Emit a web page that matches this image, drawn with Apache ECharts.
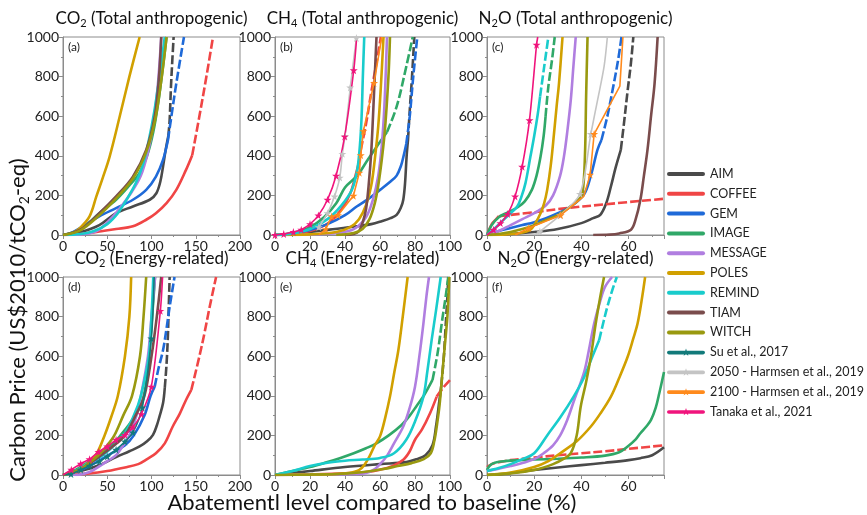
<!DOCTYPE html>
<html><head><meta charset="utf-8">
<script src="https://cdn.jsdelivr.net/npm/echarts@6/dist/echarts.min.js"></script>
<style>html,body{margin:0;padding:0;background:#fff}#c{width:867px;height:515px}</style>
</head><body><div id="c"></div>
<script>
// ---------- legend / models ----------
const modelNames = ['AIM','COFFEE','GEM','IMAGE','MESSAGE','POLES','REMIND','TIAM','WITCH','Su et al., 2017','2050 - Harmsen et al., 2019','2100 - Harmsen et al., 2019','Tanaka et al., 2021'];
const modelColors = ['#4a4a4a','#f04545','#1f6ad8','#30a868','#b07ee0','#d1a000','#19cccc','#7a4c4c','#999910','#127a7a','#c4c4c4','#ff8a1c','#f0147c'];

// ---------- axis ticks ----------
const xTicksA = [0,50,100,150,200];
const xTicksB = [0,20,40,60,80,100];
const xTicksC = [0,20,40,60];
const yTicks = [0,200,400,600,800,1000];

// ---------- panel (a) CO2 total ----------
const a_AIM = [[0,0],[20,15],[41,50],[60,110],[79,144],[98,178],[105.5,211],[110,270],[113,345],[116,430],[119,500]];
const a_AIM_dash = [[119,500],[120.5,580],[122,750],[123.5,880],[125,1000]];
const a_COFFEE = [[0,0],[20,5],[41,18],[60,30],[79,44],[94,77],[105,110],[117,161],[128,228],[139,329],[146,403]];
const a_COFFEE_dash = [[146,403],[154,597],[162,799],[169.5,1000]];
const a_GEM = [[0,0],[10,12],[22.6,44],[41,94],[60,136],[79,178],[94,228],[105,295],[113,379],[118.6,480]];
const a_GEM_dash = [[118.6,480],[122.4,597],[128,765],[136.7,1000]];
const a_IMAGE = [[0,0],[20,30],[41,110],[60,178],[75,250],[86,310],[95,400],[102,520],[108,680],[113,850],[117,1000]];
const a_MESSAGE = [[0,0],[25,5],[40,25],[53,77],[65,140],[78,220],[88,300],[96,420],[102,560],[107,750],[111,1000]];
const a_POLES = [[0,0],[10,8],[19,35],[30,94],[37.7,195],[45,290],[52.7,396],[64,597],[75,800],[86.6,1000]];
const a_REMIND = [[0,0],[20,5],[35,20],[50,55],[62,110],[72,180],[82,260],[90,350],[97,480],[103,620],[109,800],[115,1000]];
const a_TIAM = [[0,0],[20,28],[41,110],[60,195],[79,295],[94,430],[103.6,597],[108.5,800],[111,1000]];
const a_WITCH = [[0,0],[20,25],[41,100],[60,185],[79,285],[94,420],[104,580],[111,780],[117,1000]];

// ---------- panel (b) CH4 total ----------
const b_AIM = [[0,0],[15,10],[31,27],[46.7,44],[55,55],[61,70],[66,85],[69.5,102],[72,140],[73.3,178],[74.3,260],[75.2,396],[76,480]];
const b_AIM_dash = [[76,480],[77,630],[78.3,800],[79.6,1000]];
const b_COFFEE = [[0,0],[15,10],[25,35],[32,70],[38,130],[43,210],[46,300],[48,370],[49,430]];
const b_COFFEE_dash = [[49,430],[52,560],[55,720],[58,870],[60.5,1000]];
const b_GEM = [[0,0],[10,8],[20,25],[30,55],[40,100],[46.7,144],[53,180],[60,228],[66,270],[69.5,300],[72,350],[73.5,400],[75,460]];
const b_GEM_dash = [[75,460],[77,600],[79,800],[81.3,1000]];
const b_IMAGE = [[0,0],[10,10],[20,40],[28,90],[35,160],[40,240],[47,300],[53,380],[58,445],[64,520]];
const b_IMAGE_dash = [[64,520],[69.5,648],[75,850],[78.7,1000]];
const b_MESSAGE = [[0,0],[20,3],[35,10],[45,30],[52,90],[56,180],[59,300],[61,450],[62.5,650],[64,1000]];
const b_POLES = [[0,0],[20,3],[35,15],[43,40],[48,80],[52,150],[55,250],[57,380],[59,550],[60.5,750],[62,1000]];
const b_REMIND = [[0,0],[10,8],[20,30],[30,80],[38,150],[44,230],[47,330],[48.5,450],[49.5,600],[50.2,800],[51,1000]];
const b_TIAM = [[40,0],[45,5],[48,20],[50,60],[52,130],[53.5,250],[55,420],[56,600],[57,800],[58,1000]];
const b_WITCH = [[35,0],[45,10],[50,30],[54,80],[57,160],[59,250],[61,380],[62.5,500],[63.8,650],[65,830],[65.7,1000]];
const b_H2050 = [[25,40,1],[30,110,1],[34,195,1],[37,290,1],[38.5,410,1],[40,500,1],[43,745,1],[46.5,995,1]];
const b_H2100 = [[25,0,0],[29,30,1],[32.4,94,1],[36,100,1],[44.8,198,1],[48.2,315,1],[49,403,1],[50.5,525,1],[56.6,768,1],[61,1000,0]];
const b_Tanaka = [[0,0,1],[5,5,1],[10.5,15,1],[15,27,1],[20,55,1],[24.8,99,1],[30,178,1],[34.9,299,1],[39.8,497,1],[45,832,1],[46.7,1000,0]];

// ---------- panel (c) N2O total ----------
const c_AIM = [[0,0],[10,5],[20,15],[30,30],[40,60],[45,85],[48,102],[50.5,160],[52.5,245],[54.5,340],[56.7,430]];
const c_AIM_dash = [[56.7,430],[58,560],[59.5,720],[61,870],[62,1000]];
const c_COFFEE = [[0,0],[1,30],[2,55],[3.5,75],[5,95]];
const c_COFFEE_dash = [[5,95],[20,115],[31,132],[50,155],[75,183]];
const c_GEM = [[0,0],[5,20],[10,35],[15,50],[20,65],[25,85],[30,110],[35,140],[41,203],[44,300],[46.8,430],[48.5,480]];
const c_GEM_dash = [[48.5,480],[51,600],[53.5,750],[55.5,880],[57,1000]];
const c_IMAGE = [[0,0],[2,50],[5,90],[9,115],[13,140],[16,170],[19,228],[21,300],[22.7,396],[24,500],[24.8,597]];
const c_IMAGE_dash = [[24.8,597],[26,750],[27.5,880],[28.7,1000]];
const c_MESSAGE = [[0,0],[5,20],[10,50],[15,80],[20,110],[25,150],[28,200],[31,300],[32.6,396],[34,520],[35.5,681],[36.6,850],[37.6,1000]];
const c_POLES = [[0,0],[8,3],[14,10],[18.4,27],[20.5,60],[22.7,110],[24.2,160],[25.5,228],[27,350],[28.4,513],[29.5,650],[30.5,765],[32,1000]];
const c_REMIND = [[0,0],[3,30],[6,65],[10,110],[12.8,144],[14.5,190],[16.3,262],[18.4,396],[20,500],[21.5,610],[22.5,700]];
const c_REMIND_dash = [[22.5,700],[24,830],[26,1000]];
const c_TIAM = [[45,0],[52,2],[56,8],[61,27],[63,80],[65,178],[66.5,300],[68,430],[69.5,600],[71,765],[72.3,1000]];
const c_WITCH = [[0,0],[5,5],[10,15],[15,30],[20,50],[25,75],[30,100],[35,140],[39,180],[40.5,211],[41.5,400],[42,700],[42.6,1000]];
const c_H2050 = [[20,0,0],[22.4,18,1],[31,100,1],[39.4,208,1],[44,510,1],[47,690,0],[49.6,850,0],[51,1000,0]];
const c_H2100 = [[12,0,0],[17.7,35,1],[31.2,100,1],[41,195,0],[43.7,305,1],[45.4,510,1],[56.3,752,0],[57.6,1000,0]];
const c_Tanaka = [[0,0,0],[2.8,27,1],[5.7,60,1],[8.8,106,1],[11.9,195,1],[14.9,345,1],[18,580,1],[21,961,1],[21.5,1000,0]];

// ---------- panel (d) CO2 energy ----------
const d_AIM = [[0,0],[20,20],[40,48],[60,90],[75,120],[86.6,144],[95,170],[101.7,203],[106,250],[109,295],[113,362],[115,440]];
const d_AIM_dash = [[115,440],[117,560],[118.5,700],[119.5,850],[120.5,1000]];
const d_COFFEE = [[0,0],[30,8],[50,20],[70,38],[85,55],[95,80],[105,110],[115,160],[124,245],[132,310],[139,379],[145,430]];
const d_COFFEE_dash = [[145,430],[154,597],[160,720],[165.7,849],[173,1000]];
const d_GEM = [[0,0],[20,25],[40,70],[55,110],[70,150],[80,200],[92,300],[99,400],[103.6,446]];
const d_GEM_dash = [[103.6,446],[108,540],[113,630],[117,740],[120.5,849],[126,1000]];
const d_IMAGE = [[0,0],[10,15],[25,55],[40,100],[55,150],[65,200],[80,290],[90,380],[95,500],[99,700],[104,1000]];
const d_MESSAGE = [[10,0],[19,2],[30,15],[41,44],[50,70],[60,100],[68,150],[75,200],[83,300],[88,400],[96,600],[100,800],[104,1000]];
const d_POLES = [[0,0],[15,20],[25,50],[37,100],[47,200],[55,300],[62,400],[70,600],[75,800],[77,1000]];
const d_REMIND = [[0,0],[10,10],[25,50],[45,100],[68,200],[80,300],[88,400],[97,600],[100,800],[102,1000]];
const d_TIAM = [[0,0],[20,30],[40,90],[55,140],[70,200],[82,300],[92,400],[100,600],[106,800],[111,1000]];
const d_WITCH = [[0,0],[20,30],[40,100],[50,150],[58,200],[68,300],[78,400],[87,600],[91,800],[94,1000]];
const d_Su = [[0,0,0],[9,5,1],[20,27,1],[30,47,1],[41,69,1],[50,94,1],[60,128,1],[70,169,1],[79,215,1],[89.6,341,1],[99.8,690,1],[103,1000,0]];
const d_Tanaka = [[0,0,0],[9.4,27,1],[20,57,1],[30,80,1],[40,117,1],[50,144,1],[60,178,1],[70,203,1],[79,242,1],[88.5,307,1],[99.8,446,1],[110,829,1],[112.5,1000,0]];

// ---------- panel (e) CH4 energy ----------
const e_AIM = [[0,0],[20,20],[40,40],[60,55],[75,65],[81,80],[86,100],[90,150],[92,245],[94,380],[95,450]];
const e_AIM_dash = [[95,450],[96.5,600],[97.5,750],[98.5,900],[99,1000]];
const e_COFFEE = [[0,0],[20,3],[40,8],[52,15],[60,27],[67,45],[73.3,77],[77,120],[80,178],[84,230],[88.6,312],[92.4,396]];
const e_COFFEE_dash = [[92.4,396],[96,440],[100,480]];
const e_IMAGE = [[0,0],[10,20],[20,40],[28,60],[37,85],[45,110],[52,135],[58,160],[65,200],[72,250],[77,300],[81,350],[85,400],[90,480]];
const e_IMAGE_dash = [[90,480],[93,620],[95.5,780],[97.5,900],[99,1000]];
const e_MESSAGE = [[0,0],[30,3],[45,5],[52,10],[57,30],[60,55],[63.8,94],[68,160],[73.3,245],[77,340],[80,446],[82.5,600],[84.8,765],[86.5,900],[88,1000]];
const e_POLES = [[0,0],[20,2],[35,5],[42,10],[48,25],[51,50],[54,94],[57,150],[60,195],[63,290],[65.7,396],[68,510],[70.5,631],[73,800],[75.8,1000]];
const e_REMIND = [[0,0],[10,20],[20,45],[30,62],[40,72],[50,78],[60,86],[68,110],[75,178],[80,270],[84.8,396],[87,520],[89.5,681],[92,830],[94.7,1000]];
const e_WITCH = [[0,0],[20,2],[35,5],[45,10],[55,20],[62,30],[70,45],[78,60],[85,80],[89,110],[91,170],[92.5,250],[94,350],[95.5,500],[97,650],[98.5,800],[99.6,1000]];

// ---------- panel (f) N2O energy ----------
const f_AIM = [[0,0],[5,3],[10,10],[20,25],[30,38],[40,50],[50,62],[60,75],[65,85],[70,100],[75,140]];
const f_COFFEE_dash = [[0,40],[2,55],[5,65],[10,75],[20,88],[30,100],[40,110],[50,120],[60,132],[75,150]];
const f_IMAGE = [[0,25],[1,45],[2.8,60],[6,68],[12,74],[20,78],[30,82],[40,88],[50,98],[56,115],[59.6,144],[63,180],[65,211],[67.5,245],[69.5,278],[71.5,340],[73,413],[75,520]];
const f_MESSAGE = [[0,20],[5,32],[10,45],[15,60],[20,80],[24,110],[28,150],[31,200],[34,278],[37,380],[41,513],[43,620],[45.4,765],[48,880],[50,950],[53,1000]];
const f_POLES = [[0,0],[10,12],[20,40],[26,70],[31,110],[38,170],[44,245],[48,310],[52.5,396],[56,490],[59.6,597],[62,690],[63.8,765],[65.5,880],[67,1000]];
const f_REMIND = [[0,20],[5,35],[10,55],[15,80],[20,110],[25.5,200],[31,290],[36.9,400],[41,490],[44.7,600],[47.5,680]];
const f_REMIND_dash = [[47.5,680],[49.5,780],[51,850],[53,930],[55,1000]];
const f_WITCH = [[0,0],[10,8],[20,25],[28,55],[33,85],[35.5,110],[38,200],[39.7,345],[42,470],[44,597],[46,760],[48,900],[49.6,1000]];

// ---------- panel labels/titles ----------
const panelTitles = [['CO','2',' (Total anthropogenic)'],['CH','4',' (Total anthropogenic)'],['N','2','O (Total anthropogenic)'],
                     ['CO','2',' (Energy-related)'],['CH','4',' (Energy-related)'],['N','2','O (Energy-related)']];
const panelTags = ['(a)','(b)','(c)','(d)','(e)','(f)'];

// ================= build =================
const FONT = 'Lato, "Noto Sans", sans-serif';
const grids = [
  {left:63, top:37, width:177, height:198},{left:275, top:37, width:175, height:198},{left:487, top:37, width:177, height:198},
  {left:63, top:277, width:177, height:198},{left:275, top:277, width:175, height:198},{left:487, top:277, width:177, height:198}];
const xMax = [200,100,75,200,100,75];
const xTicks = [xTicksA,xTicksB,xTicksC,xTicksA,xTicksB,xTicksC];
const axCol = '#8c8c8c';
const xAxis = [], yAxis = [];
grids.forEach((g,i)=>{
  g.show = true; g.borderColor = axCol; g.borderWidth = 1; g.containLabel = false;
  const t = xTicks[i];
  xAxis.push({gridIndex:i, type:'value', min:0, max:xMax[i], interval:t[1]-t[0],
    axisLine:{show:true,onZero:false,lineStyle:{color:axCol}}, axisTick:{show:true,length:4,lineStyle:{color:axCol}},
    minorTick:{show:true,splitNumber:2,length:2,lineStyle:{color:axCol}}, splitLine:{show:false},
    axisLabel:{fontSize:14,color:'#222',fontFamily:FONT,margin:4,showMaxLabel: xMax[i]===t[t.length-1], formatter:v=>String(v)}});
  yAxis.push({gridIndex:i, type:'value', min:yTicks[0], max:yTicks[yTicks.length-1], interval:yTicks[1]-yTicks[0],
    axisLine:{show:true,onZero:false,lineStyle:{color:axCol}}, axisTick:{show:true,length:4,lineStyle:{color:axCol}},
    minorTick:{show:true,splitNumber:2,length:2,lineStyle:{color:axCol}}, splitLine:{show:false},
    axisLabel:{fontSize:14,color:'#222',fontFamily:FONT,margin:4, formatter:v=>String(v)}});
});

const series = [];
const colorOf = n => modelColors[modelNames.indexOf(n)];
function curve(gi, name, pts, dashed){
  if(!pts) return;
  series.push({type:'line', name, xAxisIndex:gi, yAxisIndex:gi, data:pts, showSymbol:false, symbol:'none',
    smooth:0.35, color:colorOf(name), z:2,
    lineStyle:{width:2.6, color:colorOf(name), type: dashed ? [9,3] : 'solid'}, silent:true, animation:false});
}
const STAR = 'path://M50,0 L61,35 L98,35 L68,57 L79,91 L50,70 L21,91 L32,57 L2,35 L39,35 Z';
function starCurve(gi, name, pts, smooth){
  series.push({type:'line', name, xAxisIndex:gi, yAxisIndex:gi,
    data: pts.map(p=>({value:[p[0],p[1]], symbol: p[2] ? STAR : 'none'})),
    symbol: STAR, symbolSize:8, showSymbol:true, smooth: smooth ? 0.3 : false, color:colorOf(name), z:5,
    itemStyle:{color:colorOf(name)}, lineStyle:{width:1.6,color:colorOf(name)}, silent:true, animation:false});
}
function model(gi, name, solid, dash){ curve(gi,name,solid,false); curve(gi,name,dash,true); }

// panel a
model(0,'AIM',a_AIM,a_AIM_dash); model(0,'COFFEE',a_COFFEE,a_COFFEE_dash); model(0,'GEM',a_GEM,a_GEM_dash);
model(0,'IMAGE',a_IMAGE); model(0,'MESSAGE',a_MESSAGE); model(0,'POLES',a_POLES); model(0,'REMIND',a_REMIND);
model(0,'TIAM',a_TIAM); model(0,'WITCH',a_WITCH);
starCurve(3,'Su et al., 2017',d_Su,true);
// panel b
model(1,'AIM',b_AIM,b_AIM_dash); model(1,'COFFEE',b_COFFEE,b_COFFEE_dash); model(1,'GEM',b_GEM,b_GEM_dash);
model(1,'IMAGE',b_IMAGE,b_IMAGE_dash); model(1,'MESSAGE',b_MESSAGE); model(1,'POLES',b_POLES); model(1,'REMIND',b_REMIND);
model(1,'TIAM',b_TIAM); model(1,'WITCH',b_WITCH);
starCurve(1,'2050 - Harmsen et al., 2019',b_H2050,true); starCurve(1,'2100 - Harmsen et al., 2019',b_H2100,false);
starCurve(1,'Tanaka et al., 2021',b_Tanaka,true);
// panel c
model(2,'AIM',c_AIM,c_AIM_dash); model(2,'COFFEE',c_COFFEE,c_COFFEE_dash); model(2,'GEM',c_GEM,c_GEM_dash);
model(2,'IMAGE',c_IMAGE,c_IMAGE_dash); model(2,'MESSAGE',c_MESSAGE); model(2,'POLES',c_POLES); model(2,'REMIND',c_REMIND,c_REMIND_dash);
model(2,'TIAM',c_TIAM); model(2,'WITCH',c_WITCH);
starCurve(2,'2050 - Harmsen et al., 2019',c_H2050,true); starCurve(2,'2100 - Harmsen et al., 2019',c_H2100,false);
starCurve(2,'Tanaka et al., 2021',c_Tanaka,true);
// panel d
model(3,'AIM',d_AIM,d_AIM_dash); model(3,'COFFEE',d_COFFEE,d_COFFEE_dash); model(3,'GEM',d_GEM,d_GEM_dash);
model(3,'IMAGE',d_IMAGE); model(3,'MESSAGE',d_MESSAGE); model(3,'POLES',d_POLES); model(3,'REMIND',d_REMIND);
model(3,'TIAM',d_TIAM); model(3,'WITCH',d_WITCH);
starCurve(3,'Tanaka et al., 2021',d_Tanaka,true);
// panel e
model(4,'AIM',e_AIM,e_AIM_dash); model(4,'COFFEE',e_COFFEE,e_COFFEE_dash); model(4,'IMAGE',e_IMAGE,e_IMAGE_dash);
model(4,'MESSAGE',e_MESSAGE); model(4,'POLES',e_POLES); model(4,'REMIND',e_REMIND); model(4,'WITCH',e_WITCH);
// panel f
model(5,'AIM',f_AIM); model(5,'COFFEE',null,f_COFFEE_dash); model(5,'IMAGE',f_IMAGE); model(5,'MESSAGE',f_MESSAGE);
model(5,'POLES',f_POLES); model(5,'REMIND',f_REMIND,f_REMIND_dash); model(5,'WITCH',f_WITCH);

// texts
const graphic = [];
const rich = {n:{fontSize:17,fontFamily:FONT,fill:'#111',lineHeight:20}, s:{fontSize:11,fontFamily:FONT,fill:'#111',verticalAlign:'bottom',lineHeight:10}};
grids.forEach((g,i)=>{
  const t = panelTitles[i];
  graphic.push({type:'text', x:g.left+g.width/2, y:g.top-18, silent:true,
    style:{text:'{n|'+t[0]+'}{s|'+t[1]+'}{n|'+t[2]+'}', rich, textAlign:'center', textVerticalAlign:'middle', fill:'#111'}});
  graphic.push({type:'text', x:g.left+5, y:g.top+10, silent:true,
    style:{text:panelTags[i], font:'12px '+FONT, fill:'#222', textAlign:'left', textVerticalAlign:'middle'}});
});
const richBig = {n:{fontSize:22,fontFamily:FONT,fill:'#111',lineHeight:26}, s:{fontSize:14,fontFamily:FONT,fill:'#111',verticalAlign:'bottom',lineHeight:14}};
graphic.push({type:'text', x:18, y:320, rotation:Math.PI/2, silent:true,
  style:{text:'{n|Carbon Price (US$2010/tCO}{s|2}{n|-eq)}', rich:richBig, textAlign:'center', textVerticalAlign:'middle'}});
graphic.push({type:'text', x:372, y:503, silent:true,
  style:{text:'Abatementl level compared to baseline (%)', font:'22px '+FONT, fill:'#111', textAlign:'center', textVerticalAlign:'middle'}});

// legend icons (thick line, with a star for literature series)
const ICON_LINE = 'path://M2,0 L36,0 A2,2 0 0 1 36,4 L2,4 A2,2 0 0 1 2,0 Z';
const ICON_STAR = 'path://M2,2.2 L36,2.2 A1.8,1.8 0 0 1 36,5.8 L2,5.8 A1.8,1.8 0 0 1 2,2.2 Z M19,0 L19.94,2.71 L22.8,2.76 L20.52,4.49 L21.35,7.24 L19,5.6 L16.65,7.24 L17.48,4.49 L15.2,2.76 L18.06,2.71 Z';
const legendData = modelNames.map((n,i)=>({name:n, icon: i>=9 ? ICON_STAR : ICON_LINE}));

const chart = echarts.init(document.getElementById('c'), null, {renderer:'canvas'});
chart.setOption({
  animation:false, backgroundColor:'#fff',
  grid: grids, xAxis, yAxis, series, graphic,
  legend:{orient:'vertical', left:667, top:167, padding:0, itemWidth:38, itemHeight:8, itemGap:5.8, data:legendData,
    textStyle:{fontSize:12.5,color:'#222',fontFamily:FONT,lineHeight:14}, selectedMode:false}
});
</script></body></html>
